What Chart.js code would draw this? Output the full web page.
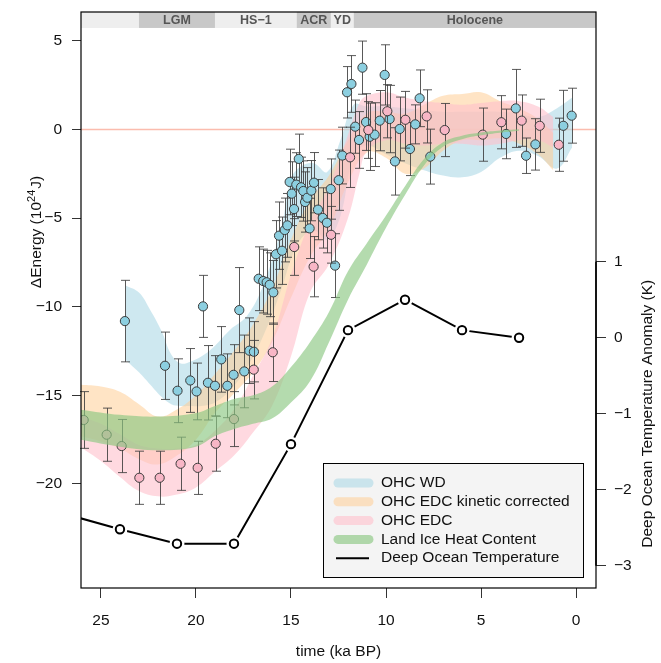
<!DOCTYPE html>
<html>
<head>
<meta charset="utf-8">
<script src="https://cdn.jsdelivr.net/npm/chart.js@4.4.0/dist/chart.umd.min.js"></script>
<style>
  html, body { margin: 0; padding: 0; background: #fff; }
  #wrap { width: 661px; height: 663px; }
</style>
</head>
<body>
<div id="wrap"><canvas id="graphic" width="661" height="663"></canvas></div>
<script>
// ---- data ----
// OHC WD (blue points): time (ka BP), energy (1e24 J), error
const wdTime = [23.74, 21.63, 20.97, 20.30, 19.97, 19.63, 19.37, 19.00, 18.67, 18.35, 18.02, 17.72, 17.46, 17.19, 16.95,
  16.70, 16.46, 16.28, 16.12, 15.93, 15.79, 15.63, 15.47, 15.33, 15.19, 15.07, 14.96, 14.84, 14.72, 14.59,
  14.47, 14.35, 14.26, 14.14, 14.02, 13.93, 13.79, 13.58, 13.33, 13.11, 12.91, 12.68, 12.49, 12.30, 12.05,
  11.82, 11.62, 11.42, 11.24, 11.05, 10.86, 10.60, 10.33, 10.07, 9.81, 9.53, 9.28, 8.74, 8.46, 8.23,
  7.67, 3.68, 3.17, 2.63, 2.14, 0.67, 0.23];
const wdEnergy = [-10.81, -13.33, -14.74, -14.16, -14.78, -9.98, -14.29, -14.46, -12.97, -14.46, -13.84, -10.19, -13.65, -12.48, -12.54,
  -8.42, -8.55, -8.62, -8.76, -9.19, -7.04, -5.99, -6.84, -5.67, -5.41, -2.96, -3.62, -4.49, -3.11, -1.66,
  -3.26, -3.47, -4.09, -3.85, -5.58, -3.45, -3.00, -4.52, -4.99, -5.26, -3.36, -7.68, -2.86, -1.47, 2.10,
  2.57, 0.16, -0.59, 3.49, 0.42, -0.41, -0.29, 0.50, 3.08, 0.59, -1.80, 0.03, -1.10, 0.29, 1.76,
  -1.53, -0.25, 1.19, -1.48, -0.84, 0.21, 0.78];
const wdErr = [2.3, 1.9, 1.8, 1.8, 1.6, 1.75, 2.1, 1.7, 1.85, 1.8, 1.7, 2.4, 2.05, 1.85, 1.7,
  1.8, 1.8, 1.8, 1.8, 1.8, 1.9, 1.9, 1.9, 1.8, 1.8, 1.85, 1.8, 1.8, 1.8, 1.4,
  1.7, 1.7, 1.7, 1.7, 1.7, 1.7, 1.7, 1.7, 1.7, 1.7, 1.7, 1.8, 1.7, 1.6, 1.45,
  1.6, 1.5, 1.6, 1.5, 1.6, 1.9, 1.8, 1.7, 1.7, 1.9, 1.9, 1.8, 1.5, 1.1, 1.6,
  1.55, 1.4, 2.2, 1.0, 1.45, 2.0, 1.55];

// OHC EDC (pink points)
const edcTime = [25.91, 24.70, 23.91, 22.98, 21.91, 20.81, 19.91, 18.96, 18.00, 16.96, 15.96, 14.83, 13.81,
  12.89, 11.89, 10.93, 9.93, 8.98, 7.86, 6.91, 4.91, 3.93, 2.86, 1.91, 0.91];
const edcEnergy = [-16.39, -17.22, -17.86, -19.65, -19.65, -18.86, -19.09, -17.73, -16.34, -13.55, -12.57, -6.63, -7.74,
  -5.94, -1.57, -0.03, 1.03, 0.55, 0.74, -0.03, -0.29, 0.41, 0.50, 0.21, -0.86];
const edcErr = [1.6, 1.5, 1.5, 1.5, 1.5, 1.5, 1.5, 1.55, 1.55, 1.65, 1.65, 1.6, 1.7,
  1.6, 1.7, 1.6, 1.5, 1.6, 1.5, 1.5, 1.5, 1.5, 1.45, 1.5, 1.5];

// uncertainty bands
const wdBandTime = [23.7, 23.0, 22.4, 21.8, 21.3, 20.8, 20.3, 19.7, 19.0, 18.2, 17.3, 16.4, 15.5, 15.0, 14.5,
  13.8, 13.1, 12.4, 11.7, 11.0, 10.0, 9.0, 8.0, 7.0, 6.0, 5.0, 4.0, 3.0, 2.0, 1.0, 0.2];
const wdBandLow = [-13.0, -13.7, -14.4, -15.1, -15.5, -15.6, -15.6, -15.6, -15.4, -14.7, -13.4, -11.5, -9.0, -7.3, -6.2,
  -5.7, -6.2, -4.9, -1.5, -0.9, -1.4, -1.9, -2.3, -2.6, -2.7, -2.4, -1.6, -1.2, -1.5, -2.2, -1.0];
const wdBandHigh = [-8.8, -9.2, -10.2, -11.4, -12.7, -13.2, -13.1, -12.8, -12.2, -11.3, -10.5, -8.6, -5.5, -2.8, -2.1,
  -1.9, -2.4, -0.6, 1.4, 1.3, 1.3, 1.2, 1.1, 1.0, 1.0, 1.0, 1.0, 0.9, 0.7, 1.2, 1.8];

const kinBandTime = [26.1, 25, 24, 23, 22, 21, 20, 19, 18, 17, 16, 15, 14, 13, 12, 11, 10, 9, 8, 7, 6, 5, 4, 3, 2, 1.2];
const kinBandLow = [-17.3, -17.6, -18.0, -18.6, -18.9, -18.4, -17.5, -16.0, -14.9, -13.7, -12.0, -9.5, -7.2, -5.6, -3.0,
  -1.3, -1.6, -2.5, -2.2, -1.2, -0.6, -0.6, -0.5, -0.8, -1.4, -2.3];
const kinBandHigh = [-14.4, -14.5, -14.8, -15.5, -16.2, -15.8, -15.0, -13.8, -12.5, -11.0, -9.0, -6.2, -4.0, -2.6, -0.6,
  0.9, 1.0, 0.9, 1.4, 1.9, 2.0, 2.1, 1.6, 1.2, 0.6, -0.2];

const edcBandTime = [26.1, 25, 24, 23, 22, 21, 20, 19, 18, 17, 16, 15, 14, 13, 12, 11.4, 11, 10, 9, 8, 7, 6, 5, 4, 3, 2, 1.2];
const edcBandLow = [-17.9, -18.7, -19.6, -20.4, -20.7, -20.6, -20.2, -19.3, -18.4, -17.1, -15.6, -12.8, -9.2, -7.6, -5.0,
  -2.5, -1.2, -0.6, -0.8, -0.9, -0.8, -0.8, -0.9, -0.8, -0.6, -0.6, -1.0];
const edcBandHigh = [-16.2, -16.6, -17.2, -17.8, -18.0, -18.0, -17.8, -17.0, -15.8, -13.9, -11.8, -8.2, -5.2, -3.2, -0.3,
  1.5, 1.9, 2.1, 1.8, 1.6, 1.5, 1.4, 1.5, 1.6, 1.6, 1.3, 0.7];

const iceBandTime = [26.1, 24, 22, 20, 19, 18, 17, 16, 15, 14, 13, 12, 11, 10, 9, 8, 7, 6, 5, 4, 3];
const iceBandLow = [-17.5, -17.9, -18.1, -17.9, -17.3, -16.9, -16.6, -16.3, -15.4, -14.2, -12.0, -9.6, -7.6, -5.55,
  -3.7, -2.03, -0.98, -0.55, -0.33, -0.18, -0.07];
const iceBandHigh = [-15.8, -16.1, -16.2, -16.0, -15.6, -15.2, -15.0, -14.5, -13.4, -12.0, -10.3, -8.0, -6.4, -4.85,
  -3.2, -1.67, -0.72, -0.35, -0.17, -0.06, 0.01];

// deep ocean temperature (right axis, K)
const dotTime = [27, 24, 21, 18, 15, 12, 9, 6, 3];
const dotTemp = [-2.31, -2.52, -2.71, -2.71, -1.40, 0.10, 0.50, 0.10, 0.00];

// climate periods on top strip (null = plot edge)
const eraNames = ['', 'LGM', 'HS\u22121', 'ACR', 'YD', 'Holocene'];
const eraStart = [null, 23.0, 19.0, 14.7, 12.9, 11.7];
const eraEnd = [23.0, 19.0, 14.7, 12.9, 11.7, null];

const xTicks = [25, 20, 15, 10, 5, 0];
const yTicks = [5, 0, -5, -10, -15, -20];
const y2Ticks = [1, 0, -1, -2, -3];

const legendLabels = ['OHC WD', 'OHC EDC kinetic corrected', 'OHC EDC', 'Land Ice Heat Content', 'Deep Ocean Temperature'];

// ---- styles ----
const FONT = '"Liberation Sans", Arial, sans-serif';
const colWd = 'rgba(173, 216, 230, 0.6)';
const colKin = 'rgba(255, 205, 150, 0.55)';
const colEdc = 'rgba(255, 192, 203, 0.6)';
const colIce = 'rgba(140, 200, 130, 0.65)';
const legendColors = [colWd, colKin, colEdc, colIce, '#000'];

const toPoints = (t, v) => t.map((x, i) => ({ x: x, y: v[i] }));
const fmt = v => String(v).replace('-', '\u2212');

function band(label, t, lo, hi, color) {
  return [
    { label: label + ' low', data: toPoints(t, lo), borderWidth: 0, pointRadius: 0, fill: false, tension: 0.4 },
    { label: label, data: toPoints(t, hi), borderWidth: 0, pointRadius: 0, fill: '-1', backgroundColor: color, tension: 0.4 }
  ];
}

function pointSet(label, t, v, err, fillCol) {
  return {
    label: label, data: toPoints(t, v), errorBars: err, showLine: false,
    pointRadius: 4.6, pointBackgroundColor: fillCol, pointBorderColor: '#3a3a3a', pointBorderWidth: 1
  };
}

// index 0 is drawn last (on top)
const dotPoints = toPoints(dotTime, dotTemp);
const datasets = [
  // open circles, then a white disc under them so the line stops short of each point (type "b")
  { label: 'Deep Ocean Temperature points', data: dotPoints, yAxisID: 'y2', showLine: false,
    pointRadius: 4.2, pointBackgroundColor: '#fff', pointBorderColor: '#000', pointBorderWidth: 2 },
  { label: 'gap', data: dotPoints, yAxisID: 'y2', showLine: false,
    pointRadius: 7.5, pointBackgroundColor: '#fff', pointBorderWidth: 0 },
  { label: 'Deep Ocean Temperature', data: dotPoints, yAxisID: 'y2', borderColor: '#000', borderWidth: 2,
    pointRadius: 0, tension: 0 },
  ...band('Land Ice Heat Content', iceBandTime, iceBandLow, iceBandHigh, colIce),
  pointSet('EDC points', edcTime, edcEnergy, edcErr, '#f8b6c6'),
  pointSet('WD points', wdTime, wdEnergy, wdErr, '#8ccfe0'),
  ...band('OHC EDC', edcBandTime, edcBandLow, edcBandHigh, colEdc),
  ...band('OHC EDC kinetic corrected', kinBandTime, kinBandLow, kinBandHigh, colKin),
  ...band('OHC WD', wdBandTime, wdBandLow, wdBandHigh, colWd)
];

// strip, zero line, error bars, box, legend, titles
const extras = {
  id: 'extras',
  beforeDatasetsDraw(chart) {
    const { ctx, chartArea: a, scales: { x, y } } = chart;
    ctx.save();
    // zero line
    ctx.strokeStyle = 'rgba(250, 160, 140, 0.7)';
    ctx.lineWidth = 1.6;
    ctx.beginPath();
    ctx.moveTo(a.left, y.getPixelForValue(0));
    ctx.lineTo(a.right, y.getPixelForValue(0));
    ctx.stroke();
    // era strip
    const stripBottom = y.getPixelForValue(5.73);
    eraNames.forEach((name, i) => {
      const x0 = eraStart[i] === null ? a.left : x.getPixelForValue(eraStart[i]);
      const x1 = eraEnd[i] === null ? a.right : x.getPixelForValue(eraEnd[i]);
      ctx.fillStyle = i % 2 ? '#c8c8c8' : '#eeeeee';
      ctx.fillRect(x0, a.top, x1 - x0, stripBottom - a.top);
      if (name) {
        ctx.fillStyle = '#555';
        ctx.font = 'bold 12.5px ' + FONT;
        ctx.textAlign = 'center';
        ctx.textBaseline = 'middle';
        ctx.fillText(name, (x0 + x1) / 2, (a.top + stripBottom) / 2 + 0.5);
      }
    });
    ctx.restore();
  },
  beforeDatasetDraw(chart, args) {
    const ds = chart.data.datasets[args.index];
    if (!ds.errorBars) return;
    const { ctx, scales: { x, y } } = chart;
    ctx.save();
    ctx.strokeStyle = 'rgba(60, 60, 60, 0.85)';
    ctx.lineWidth = 1;
    ds.data.forEach((p, i) => {
      const px = Math.round(x.getPixelForValue(p.x)) + 0.5;
      const top = y.getPixelForValue(p.y + ds.errorBars[i]);
      const bot = y.getPixelForValue(p.y - ds.errorBars[i]);
      ctx.beginPath();
      ctx.moveTo(px, top); ctx.lineTo(px, bot);
      ctx.moveTo(px - 4.5, top); ctx.lineTo(px + 4.5, top);
      ctx.moveTo(px - 4.5, bot); ctx.lineTo(px + 4.5, bot);
      ctx.stroke();
    });
    ctx.restore();
  },
  afterDraw(chart) {
    const { ctx, chartArea: a, scales: { y2 } } = chart;
    ctx.save();
    // box
    ctx.strokeStyle = '#000';
    ctx.lineWidth = 1.2;
    ctx.strokeRect(a.left, a.top, a.right - a.left, a.bottom - a.top);
    // right axis line
    ctx.lineWidth = 1.6;
    ctx.beginPath();
    ctx.moveTo(a.right, y2.getPixelForValue(y2Ticks[0]));
    ctx.lineTo(a.right, y2.getPixelForValue(y2Ticks[y2Ticks.length - 1]));
    ctx.stroke();

    // legend
    const lw = 260, lh = 114;
    const lx = a.right - 13 - lw, ly = a.bottom - 11 - lh;
    ctx.fillStyle = '#f4f4f4';
    ctx.fillRect(lx, ly, lw, lh);
    ctx.strokeStyle = '#000';
    ctx.lineWidth = 1;
    ctx.strokeRect(lx + 0.5, ly + 0.5, lw, lh);
    ctx.font = '15.5px ' + FONT;
    ctx.textBaseline = 'middle';
    ctx.textAlign = 'left';
    legendLabels.forEach((lab, i) => {
      const ry = ly + 20 + i * 18.8;
      ctx.beginPath();
      if (i < 4) {
        ctx.strokeStyle = legendColors[i];
        ctx.lineWidth = 9;
        ctx.lineCap = 'round';
        ctx.moveTo(lx + 15, ry); ctx.lineTo(lx + 46, ry);
      } else {
        ctx.strokeStyle = '#000';
        ctx.lineWidth = 2;
        ctx.lineCap = 'butt';
        ctx.moveTo(lx + 13, ry); ctx.lineTo(lx + 46, ry);
      }
      ctx.stroke();
      ctx.fillStyle = '#111';
      ctx.fillText(lab, lx + 58, ry);
    });

    // axis titles
    ctx.fillStyle = '#111';
    ctx.font = '15.5px ' + FONT;
    ctx.textAlign = 'center';
    ctx.fillText('time (ka BP)', (a.left + a.right) / 2, 652);

    // left title with superscript
    ctx.save();
    ctx.translate(37, 232);
    ctx.rotate(-Math.PI / 2);
    const p1 = '\u0394Energy (10', p2 = '24', p3 = 'J)';
    ctx.font = '15.5px ' + FONT;
    const w1 = ctx.measureText(p1).width, w3 = ctx.measureText(p3).width;
    ctx.font = '11px ' + FONT;
    const w2 = ctx.measureText(p2).width;
    const sx = -(w1 + w2 + w3 + 1) / 2;
    ctx.textAlign = 'left';
    ctx.font = '15.5px ' + FONT;
    ctx.fillText(p1, sx, 0);
    ctx.font = '11px ' + FONT;
    ctx.fillText(p2, sx + w1, -5);
    ctx.font = '15.5px ' + FONT;
    ctx.fillText(p3, sx + w1 + w2 + 1, 0);
    ctx.restore();

    // right title
    ctx.save();
    const cy = (y2.getPixelForValue(y2Ticks[0]) + y2.getPixelForValue(y2Ticks[y2Ticks.length - 1])) / 2;
    ctx.translate(648, cy);
    ctx.rotate(-Math.PI / 2);
    ctx.textAlign = 'center';
    ctx.fillText('Deep Ocean Temperature Anomaly (K)', 0, 0);
    ctx.restore();
    ctx.restore();
  }
};

const tickFont = { family: FONT, size: 15.5 };

// fixed scale sizes, no extra label padding so the plot box sits where the figure has it
function fixSize(w, h) {
  return s => {
    if (w !== null) s.width = w;
    if (h !== null) s.height = h;
    s.paddingTop = 0; s.paddingBottom = 0; s.paddingLeft = 0; s.paddingRight = 0;
  };
}

const config = {
  type: 'line',
  data: { datasets: datasets },
  options: {
    responsive: false,
    animation: false,
    devicePixelRatio: 1,
    layout: { padding: { top: 12, left: 0, right: 0, bottom: 0 } },
    plugins: { legend: { display: false }, tooltip: { enabled: false }, filler: { propagate: false } },
    scales: {
      x: {
        type: 'linear', reverse: true, min: -1.05, max: 26.05,
        afterBuildTicks: s => { s.ticks = xTicks.map(v => ({ value: v })); },
        afterFit: fixSize(null, 75),
        grid: { drawOnChartArea: false, tickLength: 10, color: '#333' },
        border: { display: false },
        ticks: { font: tickFont, color: '#111', padding: 13, autoSkip: false, maxRotation: 0, callback: v => fmt(v) }
      },
      y: {
        type: 'linear', position: 'left', min: -25.87, max: 6.63,
        afterBuildTicks: s => { s.ticks = yTicks.map(v => ({ value: v })); },
        afterFit: fixSize(81, null),
        grid: { drawOnChartArea: false, tickLength: 9, color: '#333' },
        border: { display: false },
        ticks: { font: tickFont, color: '#111', padding: 10, autoSkip: false, callback: v => fmt(v) }
      },
      y2: {
        type: 'linear', position: 'right', min: -3.293, max: 4.286,
        afterBuildTicks: s => { s.ticks = y2Ticks.map(v => ({ value: v })); },
        afterFit: fixSize(65, null),
        grid: { drawOnChartArea: false, tickLength: 10, color: '#333' },
        border: { display: false },
        ticks: { font: tickFont, color: '#111', padding: 8, autoSkip: false, callback: v => fmt(v) }
      }
    }
  },
  plugins: [extras]
};

const energyChart = new Chart(document.querySelector('#graphic'), config);
</script>
</body>
</html>
